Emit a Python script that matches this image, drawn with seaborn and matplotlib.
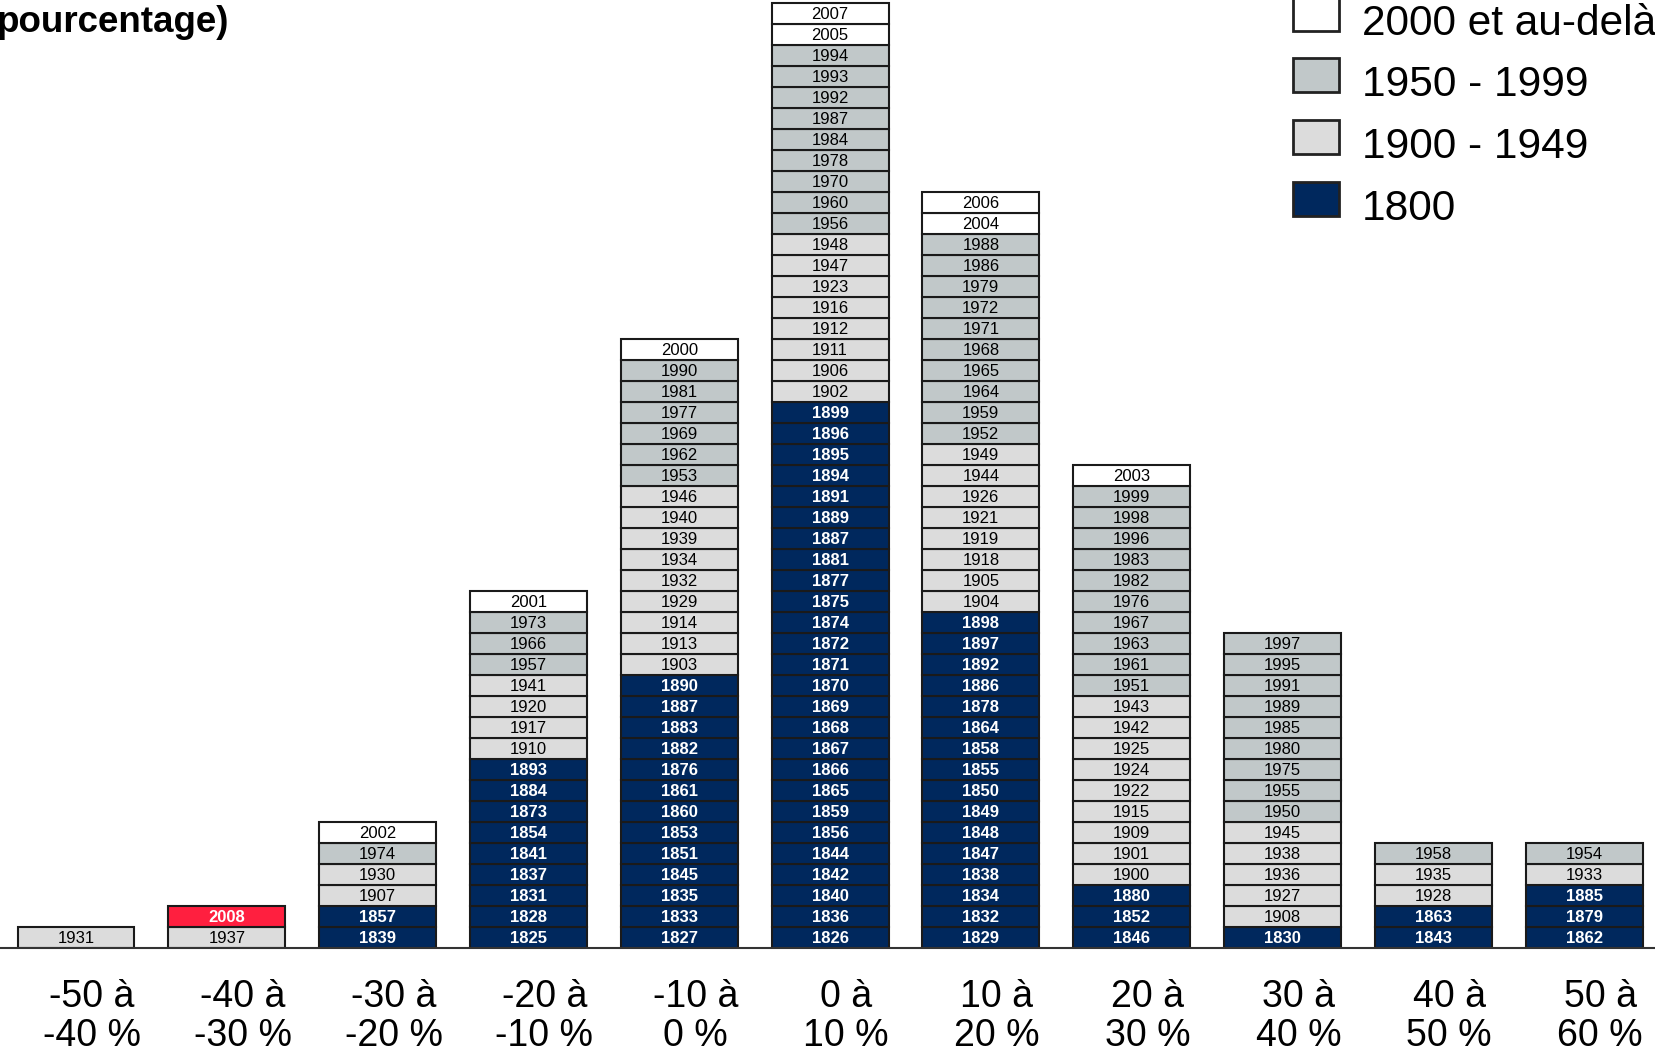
import matplotlib
matplotlib.use("Agg")
import matplotlib.pyplot as plt
import matplotlib.transforms as mtransforms
import seaborn as sns
import pandas as pd
from matplotlib.patches import Rectangle

sns.set_theme(style="white")
plt.rcParams['font.family'] = ['Liberation Sans', 'DejaVu Sans']

# ---------------- data ----------------
categories = ["-50 à\n-40 %", "-40 à\n-30 %", "-30 à\n-20 %", "-20 à\n-10 %",
              "-10 à\n0 %", "0 à\n10 %", "10 à\n20 %", "20 à\n30 %",
              "30 à\n40 %", "40 à\n50 %", "50 à\n60 %"]

# years in each return bin, from bottom to top of the stack
years_m50_m40 = [1931]
years_m40_m30 = [1937, 2008]
years_m30_m20 = [1839, 1857, 1907, 1930, 1974, 2002]
years_m20_m10 = [1825, 1828, 1831, 1837, 1841, 1854, 1873, 1884, 1893,
                 1910, 1917, 1920, 1941, 1957, 1966, 1973, 2001]
years_m10_0 = [1827, 1833, 1835, 1845, 1851, 1853, 1860, 1861, 1876, 1882,
               1883, 1887, 1890, 1903, 1913, 1914, 1929, 1932, 1934, 1939,
               1940, 1946, 1953, 1962, 1969, 1977, 1981, 1990, 2000]
years_0_10 = [1826, 1836, 1840, 1842, 1844, 1856, 1859, 1865, 1866, 1867,
              1868, 1869, 1870, 1871, 1872, 1874, 1875, 1877, 1881, 1887,
              1889, 1891, 1894, 1895, 1896, 1899, 1902, 1906, 1911, 1912,
              1916, 1923, 1947, 1948, 1956, 1960, 1970, 1978, 1984, 1987,
              1992, 1993, 1994, 2005, 2007]
years_10_20 = [1829, 1832, 1834, 1838, 1847, 1848, 1849, 1850, 1855, 1858,
               1864, 1878, 1886, 1892, 1897, 1898, 1904, 1905, 1918, 1919,
               1921, 1926, 1944, 1949, 1952, 1959, 1964, 1965, 1968, 1971,
               1972, 1979, 1986, 1988, 2004, 2006]
years_20_30 = [1846, 1852, 1880, 1900, 1901, 1909, 1915, 1922, 1924, 1925,
               1942, 1943, 1951, 1961, 1963, 1967, 1976, 1982, 1983, 1996,
               1998, 1999, 2003]
years_30_40 = [1830, 1908, 1927, 1936, 1938, 1945, 1950, 1955, 1975, 1980,
               1985, 1989, 1991, 1995, 1997]
years_40_50 = [1843, 1863, 1928, 1935, 1958]
years_50_60 = [1862, 1879, 1885, 1933, 1954]

bins = [years_m50_m40, years_m40_m30, years_m30_m20, years_m20_m10,
        years_m10_0, years_0_10, years_10_20, years_20_30, years_30_40,
        years_40_50, years_50_60]

highlight_year = 2008
legend_labels = ["2000 et au-delà", "1950 - 1999", "1900 - 1949", "1800"]

# ---------------- styling ----------------
palette = {"2000+": "#FFFFFF", "1950s": "#C1C8C9", "1900s": "#DCDCDC",
           "1800s": "#00285D", "hl": "#FF1F3F"}
legend_groups = ["2000+", "1950s", "1900s", "1800s"]


def group_of(y):
    if y == highlight_year:
        return "hl"
    if y >= 2000:
        return "2000+"
    if y >= 1950:
        return "1950s"
    if y >= 1900:
        return "1900s"
    return "1800s"


rows = []
for cat, yrs in zip(categories, bins):
    for lvl, y in enumerate(yrs):
        rows.append({"cat": cat, "level": lvl, "year": y,
                     "group": group_of(y), "one": 1})
df = pd.DataFrame(rows)

W, H = 1655, 1055
fig = plt.figure(figsize=(W / 100, H / 100), dpi=100)
ax = fig.add_axes([0, 107 / H, 1, 948 / H])

edge = "#1a1a1a"
for lvl in range(df["level"].max() + 1):
    sub = df[df["level"] == lvl]
    sns.barplot(data=sub, x="cat", y="one", order=categories,
                hue="group", hue_order=list(palette.keys()), palette=palette,
                dodge=False, width=0.775, bottom=lvl, saturation=1,
                edgecolor=edge, linewidth=1.5, errorbar=None,
                legend=False, ax=ax)

for _, r in df.iterrows():
    xi = categories.index(r["cat"])
    dark = r["group"] in ("1800s", "hl")
    ax.text(xi, r["level"] + 0.45, str(r["year"]), ha="center", va="center",
            fontsize=12, color="white" if dark else "black",
            fontweight="bold" if dark else "normal")

ax.set_xlim(-0.504, 10.47)
ax.set_ylim(0, 45.14)
ax.set_xlabel("")
ax.set_ylabel("")
ax.set_yticks([])
for s in ["top", "left", "right"]:
    ax.spines[s].set_visible(False)
ax.spines["bottom"].set_color("#333333")
ax.spines["bottom"].set_linewidth(1.5)
ax.tick_params(axis="x", length=0, pad=22, labelsize=27, colors="black")
ax.set_xticks(range(len(categories)))
ax.set_xticklabels(categories)
shift = mtransforms.ScaledTranslation(16 / 100, 0, fig.dpi_scale_trans)
for lbl in ax.get_xticklabels():
    lbl.set_linespacing(1.12)
    lbl.set_transform(lbl.get_transform() + shift)

# title fragment (cut off at left in the original)
fig.text(229 / W, 1 - 32 / H, "pourcentage)", ha="right", va="baseline",
         fontsize=26.5, fontweight="bold", color="black")

# legend
box_x, box_w, box_h = 1293, 46, 34
tops = [-3, 58, 120, 182]
for top, g, lab in zip(tops, legend_groups, legend_labels):
    fig.add_artist(Rectangle((box_x / W, 1 - (top + box_h) / H), box_w / W, box_h / H,
                             transform=fig.transFigure, facecolor=palette[g],
                             edgecolor="#222222", linewidth=2))
    fig.text(1362 / W, 1 - (top + 38) / H, lab, ha="left", va="baseline",
             fontsize=30.5, color="black")

fig.savefig("out.png", dpi=100)
